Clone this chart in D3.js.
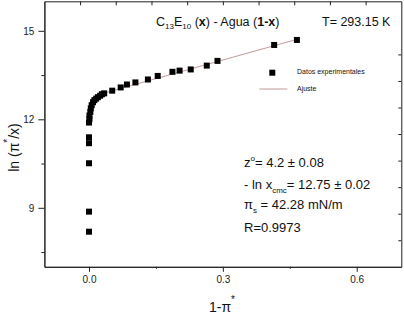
<!DOCTYPE html>
<html>
<head>
<meta charset="utf-8">
<script src="https://cdn.jsdelivr.net/npm/d3@7"></script>
<style>
	body { margin: 0; background: #fff; }
	svg { display: block; font-family: "Liberation Sans", Arial, sans-serif; }
	.axis path, .axis line { stroke: #222; }
	.axis text { fill: #222; font-size: 10px; font-family: "Liberation Sans", Arial, sans-serif; }
</style>
</head>
<body>
<div id="chart"></div>
<script>
// data
const xVals = [
	0.000, 0.000, 0.000, 0.000, 0.000,
	0.000, 0.001, 0.001, 0.003, 0.004, 0.006, 0.009, 0.012, 0.016, 0.020, 0.025, 0.029, 0.034,
	0.052, 0.071, 0.085, 0.104, 0.132, 0.154, 0.187, 0.203, 0.228, 0.264, 0.288, 0.415, 0.466
];
const yVals = [
	8.19, 8.87, 10.51, 11.19, 11.39,
	11.89, 12.01, 12.13, 12.25, 12.37, 12.48, 12.58, 12.65, 12.70, 12.75, 12.80, 12.85, 12.88,
	12.97, 13.08, 13.18, 13.25, 13.35, 13.47, 13.61, 13.65, 13.69, 13.82, 13.98, 14.52, 14.69
];
const fitX = [0.02, 0.466];
const fitY = [12.83, 14.71];

const xTicks = [0, 0.3, 0.6];
const xMinor = [0.15, 0.45];
const yTicks = [9, 12, 15];
const yMinor = [7.5, 10.5, 13.5];
const topTicks = [-0.02, 0.06, 0.14, 0.22, 0.30, 0.38, 0.46, 0.54, 0.62];
const rightTicks = [14.2, 13.3, 12.4, 11.5, 10.6, 9.7, 8.8, 7.9];

const width = 404;
const height = 317;
const plot = { left: 44.4, right: 401.3, top: 1.3, bottom: 266.8 };

const svg = d3.select("#chart")
	.append("svg")
	.attr("width", width)
	.attr("height", height);

const x = d3.scaleLinear().domain([-0.1, 0.7]).range([plot.left, plot.right]);
const y = d3.scaleLinear().domain([7, 16]).range([plot.bottom, plot.top]);

/*
Axes and frame
*/
svg.append("g")
	.attr("class", "axis")
	.attr("transform", `translate(0,${plot.bottom})`)
	.call(d3.axisBottom(x).tickValues(xTicks).tickSize(5).tickSizeOuter(0).tickPadding(4)
		.tickFormat(d3.format(".1f")));
svg.append("g")
	.attr("class", "axis")
	.attr("transform", `translate(0,${plot.bottom})`)
	.call(d3.axisBottom(x).tickValues(xMinor).tickSize(2).tickSizeOuter(0).tickFormat(""));
svg.append("g")
	.attr("class", "axis")
	.attr("transform", `translate(${plot.left},0)`)
	.call(d3.axisLeft(y).tickValues(yTicks).tickSize(6).tickSizeOuter(0).tickPadding(4)
		.tickFormat(d3.format("d")));
svg.append("g")
	.attr("class", "axis")
	.attr("transform", `translate(${plot.left},0)`)
	.call(d3.axisLeft(y).tickValues(yMinor).tickSize(3).tickSizeOuter(0).tickFormat(""));
svg.append("g")
	.attr("class", "axis")
	.attr("transform", `translate(0,${plot.top})`)
	.call(d3.axisTop(x).tickValues(topTicks).tickSize(-4).tickSizeOuter(0).tickFormat(""));
svg.append("g")
	.attr("class", "axis")
	.attr("transform", `translate(${plot.right},0)`)
	.call(d3.axisRight(y).tickValues(rightTicks).tickSize(-3).tickSizeOuter(0).tickFormat(""));

/*
Fit line and points
*/
const fitLine = d3.line()
	.x((d, i) => x(fitX[i]))
	.y((d, i) => y(fitY[i]));
svg.append("path")
	.datum(fitX)
	.attr("d", fitLine)
	.attr("fill", "none")
	.attr("stroke", "#c49a9a")
	.attr("stroke-width", 1);

const sz = 6;
svg.selectAll("rect.pt")
	.data(xVals)
	.enter()
	.append("rect")
	.attr("class", "pt")
	.attr("x", (d) => x(d) - sz / 2)
	.attr("y", (d, i) => y(yVals[i]) - sz / 2)
	.attr("width", sz)
	.attr("height", sz)
	.attr("fill", "#000");

/*
Titles and labels
*/
const title = svg.append("text")
	.attr("x", 156)
	.attr("y", 26)
	.style("font-size", "12.5px")
	.attr("fill", "#111");
title.append("tspan").text("C");
title.append("tspan").attr("dy", 3).style("font-size", "8px").text("13");
title.append("tspan").attr("dy", -3).text("E");
title.append("tspan").attr("dy", 3).style("font-size", "8px").text("10");
title.append("tspan").attr("dy", -3).text(" (");
title.append("tspan").style("font-weight", "bold").text("x");
title.append("tspan").text(") - Agua (");
title.append("tspan").style("font-weight", "bold").text("1-x");
title.append("tspan").text(")");

svg.append("text")
	.attr("x", 322)
	.attr("y", 26)
	.style("font-size", "12.5px")
	.attr("fill", "#111")
	.text("T= 293.15 K");

// legend
svg.append("rect")
	.attr("x", 272.3 - sz / 2)
	.attr("y", 72.7 - sz / 2)
	.attr("width", sz)
	.attr("height", sz)
	.attr("fill", "#000");
svg.append("text")
	.attr("x", 297)
	.attr("y", 73.5)
	.style("font-size", "7px")
	.attr("fill", "#111")
	.text("Datos experimentales");
svg.append("line")
	.attr("x1", 259.3)
	.attr("x2", 287.3)
	.attr("y1", 89)
	.attr("y2", 89)
	.attr("stroke", "#c49a9a")
	.attr("stroke-width", 1);
svg.append("text")
	.attr("x", 297)
	.attr("y", 91)
	.style("font-size", "7px")
	.attr("fill", "#111")
	.text("Ajuste");

// fit results
const ann = svg.append("g")
	.style("font-size", "13px")
	.attr("fill", "#111");
const t1 = ann.append("text").attr("x", 244).attr("y", 167);
t1.append("tspan").text("z");
t1.append("tspan").attr("dy", -6).style("font-size", "8px").text("o");
t1.append("tspan").attr("dy", 6).text("= 4.2 ± 0.08");
const t2 = ann.append("text").attr("x", 244).attr("y", 189.3);
t2.append("tspan").text("- ln x");
t2.append("tspan").attr("dy", 4).style("font-size", "8px").text("cmc");
t2.append("tspan").attr("dy", -4).text("= 12.75 ± 0.02");
const t3 = ann.append("text").attr("x", 244).attr("y", 209);
t3.append("tspan").text("π");
t3.append("tspan").attr("dy", 4).style("font-size", "8px").text("s");
t3.append("tspan").attr("dy", -4).text(" = 42.28 mN/m");
ann.append("text").attr("x", 244).attr("y", 232).text("R=0.9973");

// axis titles
const xl = svg.append("text")
	.attr("x", 209)
	.attr("y", 312)
	.style("font-size", "14px")
	.attr("fill", "#111");
xl.append("tspan").text("1-π");
xl.append("tspan").attr("dy", -9).style("font-size", "10px").text("*");

const yl = svg.append("text")
	.attr("transform", "translate(18.5,147.5) rotate(-90)")
	.attr("text-anchor", "middle")
	.style("font-size", "14px")
	.attr("fill", "#111");
yl.append("tspan").text("ln (π");
yl.append("tspan").attr("dy", -8).style("font-size", "10px").text("*");
yl.append("tspan").attr("dy", 8).text("/x)");
</script>
</body>
</html>
